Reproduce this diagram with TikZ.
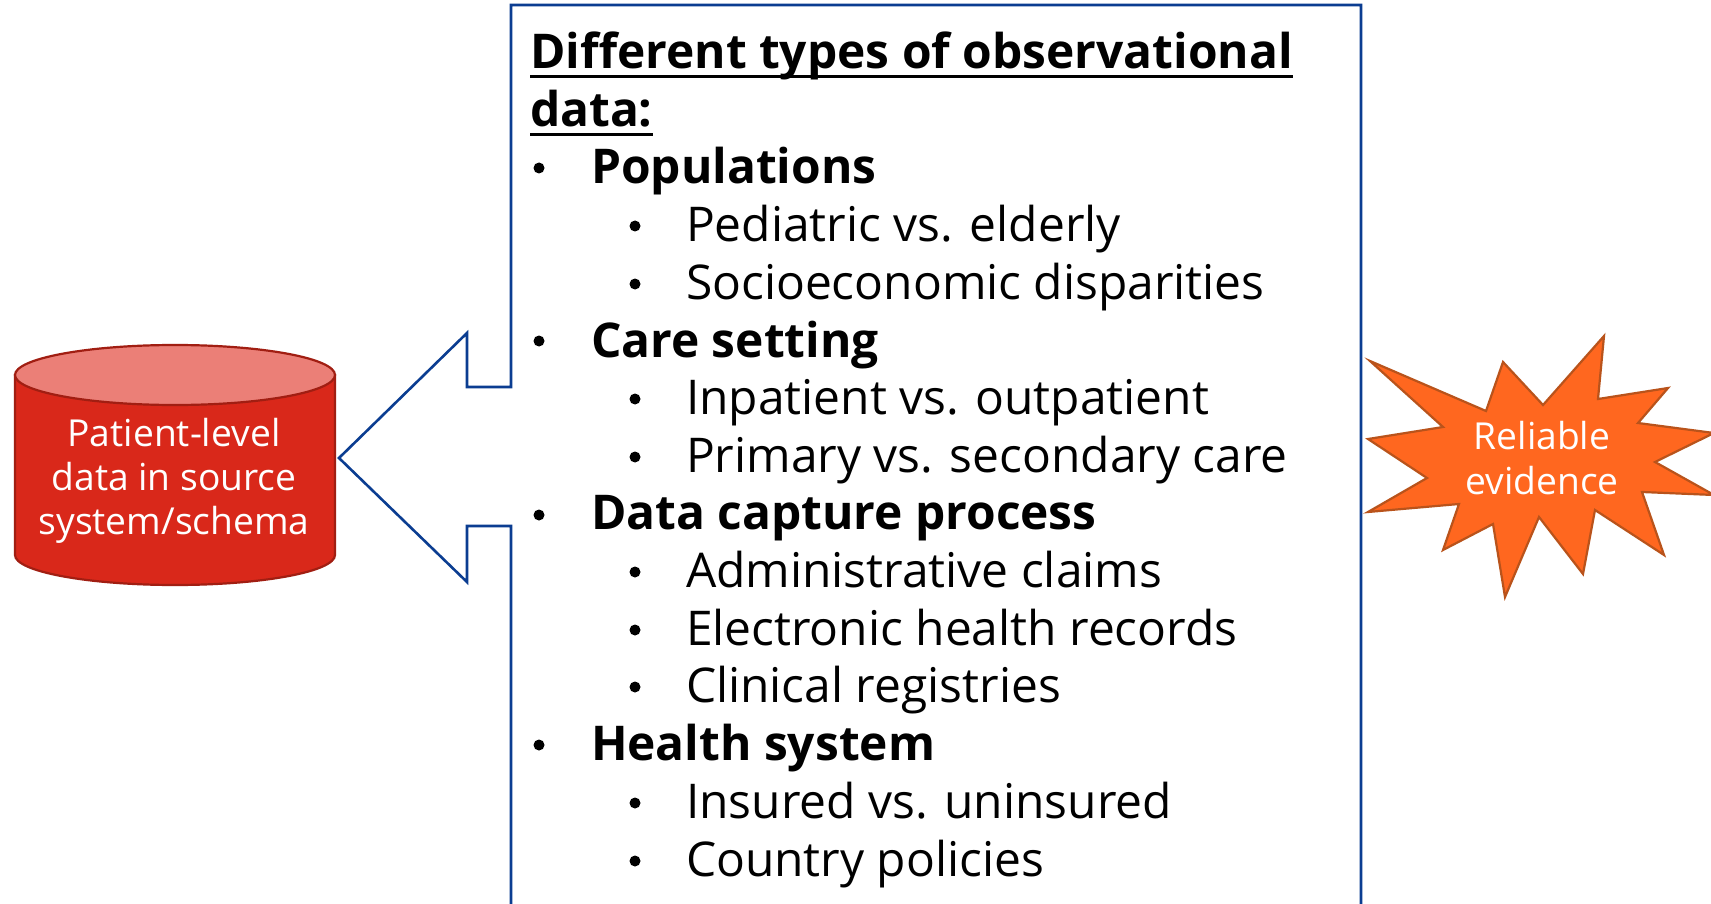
\documentclass[tikz,border=0pt]{standalone}
\usepackage{fontspec}
\setmainfont{Open Sans}
\definecolor{framec}{HTML}{0B3D91}
\definecolor{cylc}{HTML}{D9281A}
\definecolor{cyltop}{HTML}{EB7F77}
\definecolor{cylb}{HTML}{A11E12}
\definecolor{starc}{HTML}{FF671F}
\definecolor{starb}{HTML}{B9531B}
\tikzset{
  txt/.style={anchor=base west,inner sep=0pt,outer sep=0pt,text=black,font=\fontsize{47.9}{57.7}\selectfont},
  head/.style={txt,font=\fontsize{47.9}{57.7}\selectfont\bfseries},
  dot/.style={circle,fill=black,inner sep=0pt,minimum size=11pt},
  inv/.style={align=center,text=white,inner sep=0pt,font=\fontsize{37.2}{44.3}\selectfont},
  uline/.style={line width=3pt,black},
  frameline/.style={draw=framec,line width=2.6pt,line join=miter,fill=white},
}
\begin{document}
\begin{tikzpicture}[x=1pt,y=-1pt]
\useasboundingbox (0,0) rectangle (1711,904);
\clip (0,0) rectangle (1711,904);
\fill[white] (0,0) rectangle (1711,904);
% callout frame
\draw[frameline] (511,930) -- (511,526) -- (467,526) -- (467,582) -- (339,458) -- (467,333) -- (467,387) -- (511,387) -- (511,5) -- (1361,5) -- (1361,930);
% cylinder
\draw[fill=cylc,draw=cylb,line width=2.2pt] (15,375) -- (15,555) .. controls (15,571.5) and (87,585) .. (175,585) .. controls (263,585) and (335,571.5) .. (335,555) -- (335,375) -- cycle;
\draw[fill=cyltop,draw=cylb,line width=2.2pt] (15,375) .. controls (15,358.5) and (87,345) .. (175,345) .. controls (263,345) and (335,358.5) .. (335,375) .. controls (335,391.5) and (263,405) .. (175,405) .. controls (87,405) and (15,391.5) .. (15,375) -- cycle;
\node[inv,anchor=center] (cyl) at (174,481) {Patient-level\\data in source\\system/schema};
% star
\draw[fill=starc,draw=starb,line width=2.2pt,line join=miter]
 (1370,361) -- (1486,411) -- (1503,362) -- (1543,405) -- (1604,336) -- (1598,399) -- (1668,388) -- (1638,423) -- (1714,433) -- (1655,462) -- (1714,495) -- (1642,492) -- (1664,555) -- (1595,510) -- (1583,574) -- (1539,517) -- (1505,597) -- (1493,524) -- (1443,550) -- (1459,504) -- (1368,512) -- (1427,478) -- (1368,439) -- (1443,427) -- cycle;
\node[inv,anchor=center] (star) at (1542,458) {Reliable\\evidence};
% heading
\node[head] (h1) at (530,69) {Different types of observational};
\node[head] (h2) at (530,127) {data:};
\draw[uline] ([yshift=-8pt]h1.base west) -- ([yshift=-8pt]h1.base east);
\draw[uline] ([yshift=-8pt]h2.base west) -- ([yshift=-8pt]h2.base east);
% list
\node[head] (a1) at (591,184) {Populations};
\node[txt] (a2) at (686,242) {Pediatric vs. elderly};
\node[txt] (a3) at (686,299) {Socioeconomic disparities};
\node[head] (b1) at (591,357) {Care setting};
\node[txt] (b2) at (686,414) {Inpatient vs. outpatient};
\node[txt] (b3) at (686,472) {Primary vs. secondary care};
\node[head] (c1) at (591,529) {Data capture process};
\node[txt] (c2) at (686,587) {Administrative claims};
\node[txt] (c3) at (686,645) {Electronic health records};
\node[txt] (c4) at (686,702) {Clinical registries};
\node[head] (d1) at (591,760) {Health system};
\node[txt] (d2) at (686,818) {Insured vs. uninsured};
\node[txt] (d3) at (686,876) {Country policies};
% bullets
\foreach \n/\x/\y in {p1/539/168,p2/635/226,p3/635/284,p4/539/341,p5/635/399,p6/635/457,p7/539/515,p8/635/572,p9/635/630,p10/635/687,p11/539/745,p12/635/803,p13/635/861}
  \node[dot] (\n) at (\x,\y) {};
\end{tikzpicture}
\end{document}
